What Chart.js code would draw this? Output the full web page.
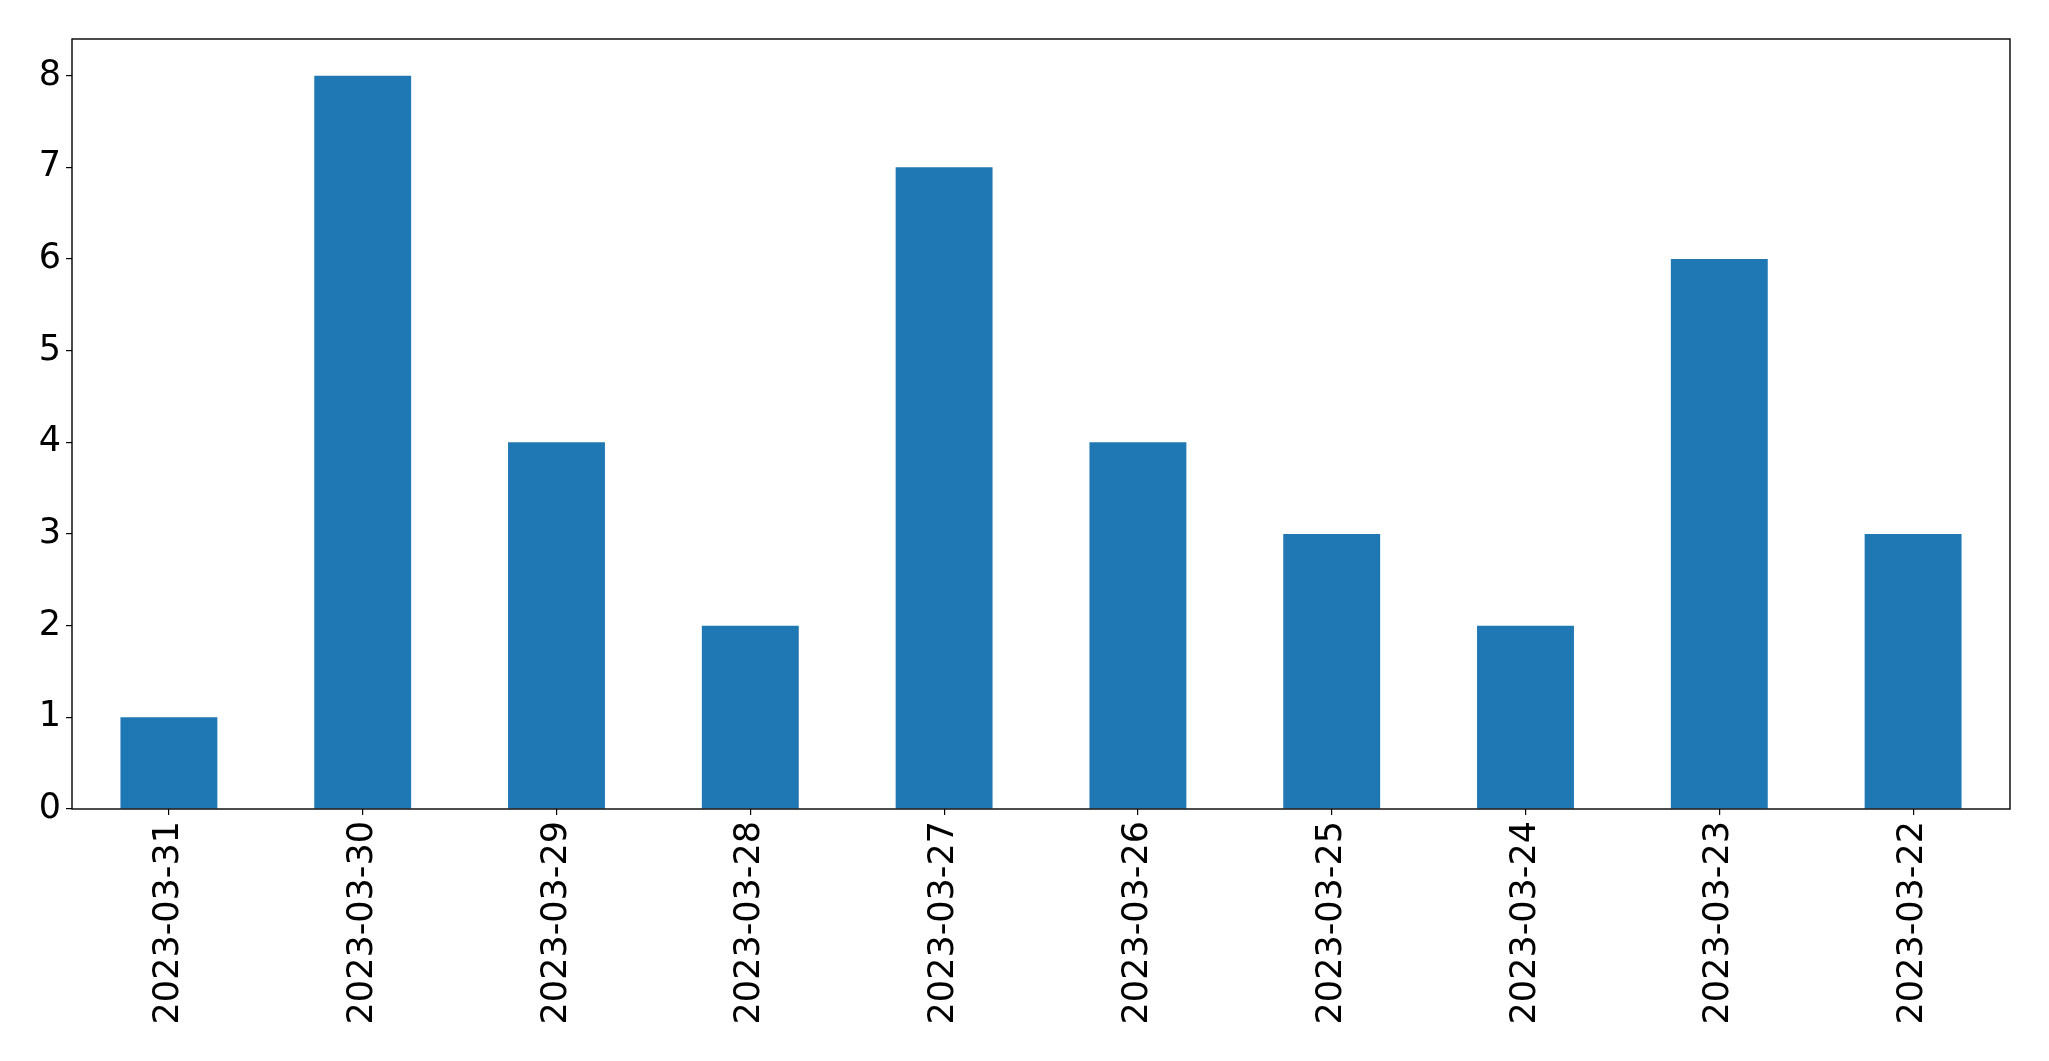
<!DOCTYPE html>
<html>
<head>
<meta charset="utf-8">
<script src="https://cdn.jsdelivr.net/npm/chart.js@4"></script>
<style>
  html, body { margin: 0; padding: 0; background: #fff; }
  canvas { display: block; }
</style>
</head>
<body>
<canvas id="barCanvas" width="2049" height="1061"></canvas>
<script>
const dates = ['2023-03-31', '2023-03-30', '2023-03-29', '2023-03-28', '2023-03-27',
               '2023-03-26', '2023-03-25', '2023-03-24', '2023-03-23', '2023-03-22'];
const counts = [1, 8, 4, 2, 7, 4, 3, 2, 6, 3];
const yTicks = [0, 1, 2, 3, 4, 5, 6, 7, 8];

// draws the full box around the plot, like matplotlib spines
const frameBox = {
    id: 'frameBox',
    afterDraw(chart) {
        const { ctx, chartArea: a } = chart;
        ctx.save();
        ctx.strokeStyle = '#000';
        ctx.lineWidth = 1.4;
        ctx.strokeRect(a.left, a.top, a.right - a.left, a.bottom - a.top);
        ctx.restore();
    }
};

const ctx = document.getElementById('barCanvas').getContext('2d');
new Chart(ctx, {
    type: 'bar',
    data: {
        labels: dates,
        datasets: [{
            data: counts,
            backgroundColor: '#1f77b4',
            borderWidth: 0,
            barPercentage: 0.5,
            categoryPercentage: 1.0
        }]
    },
    options: {
        responsive: false,
        animation: false,
        layout: { padding: { top: 39, right: 39, left: 0, bottom: 0 } },
        plugins: {
            legend: { display: false },
            tooltip: { enabled: false }
        },
        scales: {
            x: {
                grid: { display: true, offset: false, drawOnChartArea: false, tickLength: 6, color: '#000', lineWidth: 1.2 },
                border: { display: false },
                ticks: {
                    color: '#000',
                    font: { family: 'DejaVu Sans', size: 35 },
                    minRotation: 90,
                    maxRotation: 90,
                    padding: 6,
                    autoSkip: false
                },
                afterFit: s => { s.height = 252; }
            },
            y: {
                min: 0,
                max: 8.4,
                afterBuildTicks: s => { s.ticks = yTicks.map(v => ({ value: v })); },
                grid: { display: true, drawOnChartArea: false, tickLength: 6, color: '#000', lineWidth: 1.2 },
                border: { display: false },
                ticks: {
                    color: '#000',
                    font: { family: 'DejaVu Sans', size: 35 },
                    padding: 5
                },
                afterFit: s => { s.width = 72; }
            }
        }
    },
    plugins: [frameBox]
});
</script>
</body>
</html>
